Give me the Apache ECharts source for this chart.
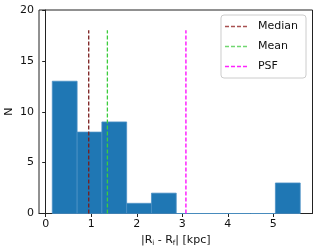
<!DOCTYPE html>
<html><head><meta charset="utf-8">
<script src="https://cdn.jsdelivr.net/npm/echarts@6/dist/echarts.min.js"></script>
<style>html,body{margin:0;padding:0;background:#fff}#c{width:318px;height:251px}</style>
</head><body><div id="c"></div>
<script>
const binEdges = [0.145, 0.69, 1.234, 1.778, 2.323, 2.867, 3.412, 3.956, 4.501, 5.045, 5.59];
const counts = [13, 8, 9, 1, 2, 0, 0, 0, 0, 3];
const medianX = 0.945, meanX = 1.355, psfX = 3.08;
const lineTop = 18;
const xTicks = [0, 1, 2, 3, 4, 5];
const yTicks = [0, 5, 10, 15, 20];

const barData = counts.map((c, i) => [binEdges[i], binEdges[i + 1], c]);
const font = 'DejaVu Sans';
const dashIcon = 'path://M0,0h4v1.4h-4z M6,0h4v1.4h-4z M12,0h4v1.4h-4z M18,0h4v1.4h-4z';
const chart = echarts.init(document.getElementById('c'), null, {renderer: 'canvas'});
function vline(name, x, color) {
  return {name, type: 'line', symbol: 'none', data: [[x, 0], [x, lineTop]],
    lineStyle: {color, width: 1.3, type: [4, 2]}, itemStyle: {color}, z: 5, silent: true};
}
chart.setOption({
  animation: false,
  grid: {left: 39, right: 5.5, top: 10, bottom: 37.5, show: true, borderColor: '#222', borderWidth: 1,
    containLabel: false, outerBoundsMode: 'none'},
  xAxis: {type: 'value', min: -0.147, max: 5.86,
    axisLine: {show: true, onZero: false, lineStyle: {color: '#222'}},
    axisTick: {show: true, length: 3.5, customValues: xTicks, lineStyle: {color: '#222'}},
    axisLabel: {customValues: xTicks, color: '#111', fontFamily: font, fontSize: 11, margin: 5},
    splitLine: {show: false},
    name: '{a||R}{s|i}{a| - R}{s|f}{a|| [kpc]}', nameLocation: 'middle', nameGap: 20, nameMoveOverlap: false,
    nameTextStyle: {rich: {a: {fontFamily: font, fontSize: 11, color: '#111'}, s: {fontFamily: font, fontSize: 7, color: '#111', verticalAlign: 'bottom', padding: [6,0,0,0]}}}
  },
  yAxis: {type: 'value', min: 0, max: 20, interval: 5,
    axisLine: {show: true, lineStyle: {color: '#222'}},
    axisTick: {show: true, length: 3.5, lineStyle: {color: '#222'}},
    axisLabel: {color: '#111', fontFamily: font, fontSize: 11, margin: 5},
    splitLine: {show: false},
    name: 'N', nameLocation: 'middle', nameGap: 24, nameMoveOverlap: false,
    nameTextStyle: {fontFamily: font, fontSize: 11, color: '#111'}
  },
  legend: {right: 12, top: 15, orient: 'vertical', itemWidth: 24, itemHeight: 1.4, itemGap: 9,
    padding: [6, 8, 6, 4], borderColor: '#ccc', borderWidth: 1, borderRadius: 3,
    textStyle: {fontFamily: font, fontSize: 11, color: '#111', padding: [0, 0, 0, 5]},
    data: [{name: 'Median', icon: dashIcon, itemStyle: {color: '#a85050'}},
           {name: 'Mean', icon: dashIcon, itemStyle: {color: '#6fd86f'}},
           {name: 'PSF', icon: dashIcon, itemStyle: {color: '#ff22ff'}}]},
  series: [
    {type: 'custom', data: barData, encode: {x: [0, 1], y: 2},
      renderItem: (params, api) => {
        const p0 = api.coord([api.value(0), 0]);
        const p1 = api.coord([api.value(1), api.value(2)]);
        return {type: 'rect', shape: {x: p0[0], y: p1[1], width: p1[0] - p0[0], height: p0[1] - p1[1]},
          style: {fill: '#1f77b4', stroke: '#4a8fc4', lineWidth: 0.8}};
      }, z: 2},
    vline('Median', medianX, '#7a1c1c'),
    vline('Mean', meanX, '#3ccc3c'),
    vline('PSF', psfX, '#ff00ff')
  ]
});
</script></body></html>
